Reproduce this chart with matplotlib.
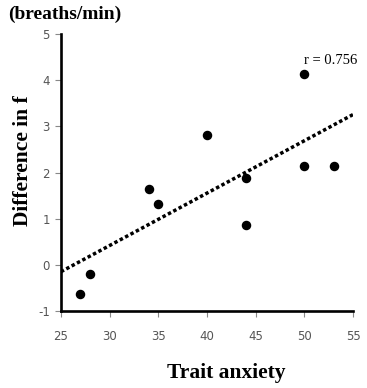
import numpy as np
import matplotlib
matplotlib.use("Agg")
import matplotlib.pyplot as plt

plt.rcParams["axes.unicode_minus"] = False

# Trait anxiety score vs. difference in breathing frequency
trait_anxiety = [27, 28, 34, 35, 40, 44, 44, 50, 50, 53]
diff_f = [-0.63, -0.19, 1.64, 1.31, 2.81, 1.88, 0.86, 2.15, 4.13, 2.15]
r_value = 0.756
x_ticks = [25, 30, 35, 40, 45, 50, 55]
y_ticks = [-1, 0, 1, 2, 3, 4, 5]

fig = plt.figure(figsize=(3.67, 3.88), dpi=100)
ax = fig.add_axes([0.166, 0.1985, 0.796, 0.7135])

ax.scatter(trait_anxiety, diff_f, s=34, color="black", zorder=3)

# least-squares fit line across the full x range
slope, intercept = np.polyfit(trait_anxiety, diff_f, 1)
xs = np.array([25, 55])
ax.plot(xs, slope * xs + intercept, color="black", lw=2.5,
        linestyle=(0, (1, 0.75)), dash_capstyle="butt", zorder=2)

ax.text(50, 4.42, f"r = {r_value:.3f}", fontsize=10.5, family="Liberation Serif",
        ha="left", va="center")

ax.set_xlim(25, 55)
ax.set_ylim(-1, 5)
ax.set_xticks(x_ticks)
ax.set_yticks(y_ticks)
ax.tick_params(axis="both", direction="out", length=4, width=0.8,
               color="#888888", labelcolor="#555555", labelsize=8.5)
ax.tick_params(axis="x", pad=10)
ax.tick_params(axis="y", pad=4)
for lab in ax.get_xticklabels() + ax.get_yticklabels():
    lab.set_family("DejaVu Sans")

for side in ("top", "right"):
    ax.spines[side].set_visible(False)
for side in ("left", "bottom"):
    ax.spines[side].set_linewidth(1.9)
    ax.spines[side].set_color("black")

serif_bold = dict(family="Liberation Serif", fontweight="bold")
fig.text(0.022, 0.962, "(breaths/min)", fontsize=14, ha="left", va="center", **serif_bold)
fig.text(0.062, 0.585, "Difference in f", fontsize=15.5, rotation=90,
         ha="center", va="center", **serif_bold)
fig.text(0.617, 0.038, "Trait anxiety", fontsize=15.5, ha="center", va="center", **serif_bold)

fig.savefig("out.png", dpi=100)
